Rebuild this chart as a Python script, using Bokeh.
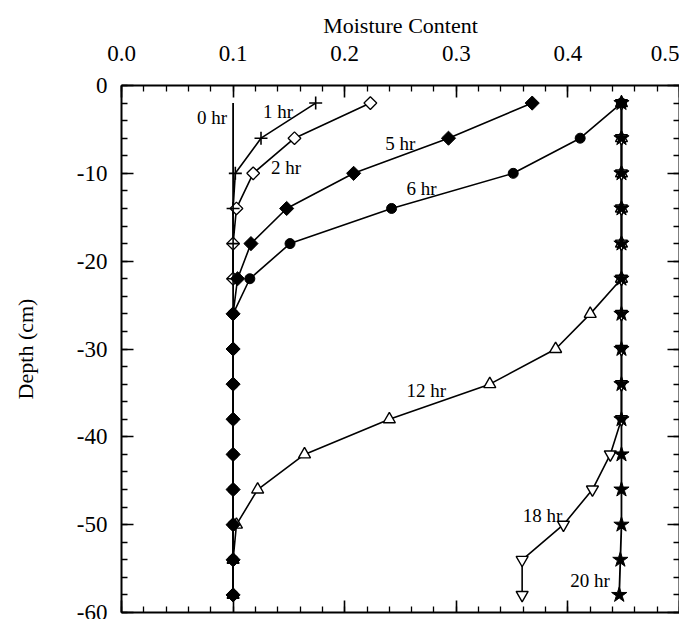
import math
from bokeh.plotting import figure
from bokeh.models import (Range1d, LinearAxis, FixedTicker, PrintfTickFormatter,
                          CustomJSTickFormatter, ColumnDataSource)
from bokeh.core.properties import value
from bokeh.embed import file_html
from bokeh.resources import INLINE

# Sampling depths (cm)
depth = [-2, -6, -10, -14, -18, -22, -26, -30, -34, -38, -42, -46, -50, -54, -58]

# Moisture content profiles at each elapsed time
mc_0hr = [0.100, 0.100, 0.100, 0.100, 0.100, 0.100, 0.100, 0.100,
          0.100, 0.100, 0.100, 0.100, 0.100, 0.100, 0.100]
mc_1hr = [0.174, 0.125, 0.102, 0.100, 0.100, 0.100]
mc_2hr = [0.223, 0.155, 0.118, 0.103, 0.100, 0.100]
mc_5hr = [0.368, 0.293, 0.208, 0.148, 0.116, 0.104, 0.100, 0.100,
          0.100, 0.100, 0.100, 0.100, 0.100, 0.100, 0.100]
mc_6hr = [0.448, 0.411, 0.351, 0.242, 0.151, 0.115, 0.100, 0.100,
          0.100, 0.100, 0.100, 0.100, 0.100, 0.100, 0.100]
mc_12hr = [0.448, 0.448, 0.448, 0.448, 0.448, 0.448, 0.420, 0.389,
           0.330, 0.240, 0.164, 0.122, 0.103, 0.100, 0.100]
mc_18hr = [0.448, 0.448, 0.448, 0.448, 0.448, 0.448, 0.448, 0.448,
           0.448, 0.448, 0.438, 0.422, 0.396, 0.359, 0.359]
mc_20hr = [0.448, 0.448, 0.448, 0.448, 0.448, 0.448, 0.448, 0.448,
           0.448, 0.448, 0.448, 0.448, 0.448, 0.447, 0.446]

# Curve labels and where they sit
label_text = ["0 hr", "1 hr", "2 hr", "5 hr", "6 hr", "12 hr", "18 hr", "20 hr"]
label_x = [0.0676, 0.1268, 0.134, 0.2364, 0.2554, 0.2554, 0.3595, 0.402]
label_y = [-3.6, -2.95, -9.3, -6.6, -11.7, -34.7, -48.9, -56.3]

x_ticks = [0.0, 0.1, 0.2, 0.3, 0.4, 0.5]
y_ticks = [0, -10, -20, -30, -40, -50, -60]

SERIF = "Liberation Serif"

p = figure(width=679, height=619, x_range=Range1d(0, 0.5), y_range=Range1d(-60, 0),
           x_axis_location="above", toolbar_location=None, output_backend="svg",
           min_border_left=121, min_border_top=85, min_border_right=0,
           min_border_bottom=7, min_border=0, outline_line_color=None)
p.grid.visible = False
p.background_fill_color = "white"
p.border_fill_color = "white"

x_minor = [i * 0.02 for i in range(26)]
y_minor = [-2 * i for i in range(31)]


def style_axis(ax, labelled):
    ax.axis_line_width = 2
    ax.axis_line_color = "black"
    ax.major_tick_in = 12
    ax.major_tick_out = 0
    ax.minor_tick_in = 6
    ax.minor_tick_out = 0
    ax.major_tick_line_width = 1.6
    ax.minor_tick_line_width = 1.3
    ax.major_tick_line_color = "black"
    ax.minor_tick_line_color = "black"
    if labelled:
        ax.major_label_text_font = SERIF
        ax.major_label_text_font_size = "23px"
        ax.major_label_text_color = "black"
        ax.axis_label_text_font = SERIF
        ax.axis_label_text_font_size = "22px"
        ax.axis_label_text_font_style = "normal"
        ax.axis_label_text_color = "black"
    else:
        ax.formatter = CustomJSTickFormatter(code="return ''")
        ax.major_label_text_color = None
        ax.major_label_standoff = 0


# top axis
xa = p.xaxis[0]
xa.ticker = FixedTicker(ticks=x_ticks, minor_ticks=x_minor)
xa.formatter = PrintfTickFormatter(format="%.1f")
xa.axis_label = "Moisture Content"
style_axis(xa, True)
xa.major_label_standoff = 25
xa.axis_label_standoff = 5

# left axis
ya = p.yaxis[0]
ya.ticker = FixedTicker(ticks=y_ticks, minor_ticks=y_minor)
ya.formatter = PrintfTickFormatter(format="%d")
ya.axis_label = "Depth (cm)"
style_axis(ya, True)
ya.major_label_standoff = 14
ya.axis_label_standoff = 36

# bottom and right frame axes with inward ticks only
xb = LinearAxis(ticker=FixedTicker(ticks=x_ticks, minor_ticks=x_minor))
style_axis(xb, False)
p.add_layout(xb, "below")
yr = LinearAxis(ticker=FixedTicker(ticks=y_ticks, minor_ticks=y_minor))
style_axis(yr, False)
p.add_layout(yr, "right")

d1 = depth[:len(mc_1hr)]
d2 = depth[:len(mc_2hr)]

LW = 1.6
# profile lines
p.line(mc_0hr, depth, line_color="black", line_width=1.8)
p.line(mc_1hr, d1, line_color="black", line_width=LW)
p.line(mc_2hr, d2, line_color="black", line_width=LW)
p.line(mc_5hr, depth, line_color="black", line_width=LW)
p.line(mc_6hr, depth, line_color="black", line_width=LW)
p.line(mc_12hr, depth, line_color="black", line_width=LW)
p.line(mc_18hr, depth, line_color="black", line_width=LW)
p.line(mc_20hr, depth, line_color="black", line_width=1.8)

# markers
p.scatter(mc_12hr, depth, marker="triangle", size=12, fill_color="white",
          line_color="black", line_width=1.4)
p.scatter(mc_18hr, depth, marker="inverted_triangle", size=12, fill_color="white",
          line_color="black", line_width=1.4)
p.scatter(mc_20hr, depth, marker="star", size=16, fill_color="black",
          line_color="black", line_width=1)
p.scatter(mc_2hr, d2, marker="square", angle=math.pi / 4, size=9, fill_color="white",
          line_color="black", line_width=1.3)
p.scatter(mc_1hr, d1, marker="cross", size=13, line_color="black", line_width=1.6)
p.scatter(mc_6hr, depth, marker="circle", size=10, fill_color="black",
          line_color="black")
p.scatter(mc_5hr, depth, marker="square", angle=math.pi / 4, size=10,
          fill_color="black", line_color="black")

# curve labels
src = ColumnDataSource(dict(x=label_x, y=label_y, t=label_text))
p.text(x="x", y="y", text="t", source=src, text_font=value(SERIF),
       text_font_size="19px", text_align="left", text_baseline="middle",
       text_color="black")

open("out.html", "w").write(file_html(p, INLINE))
